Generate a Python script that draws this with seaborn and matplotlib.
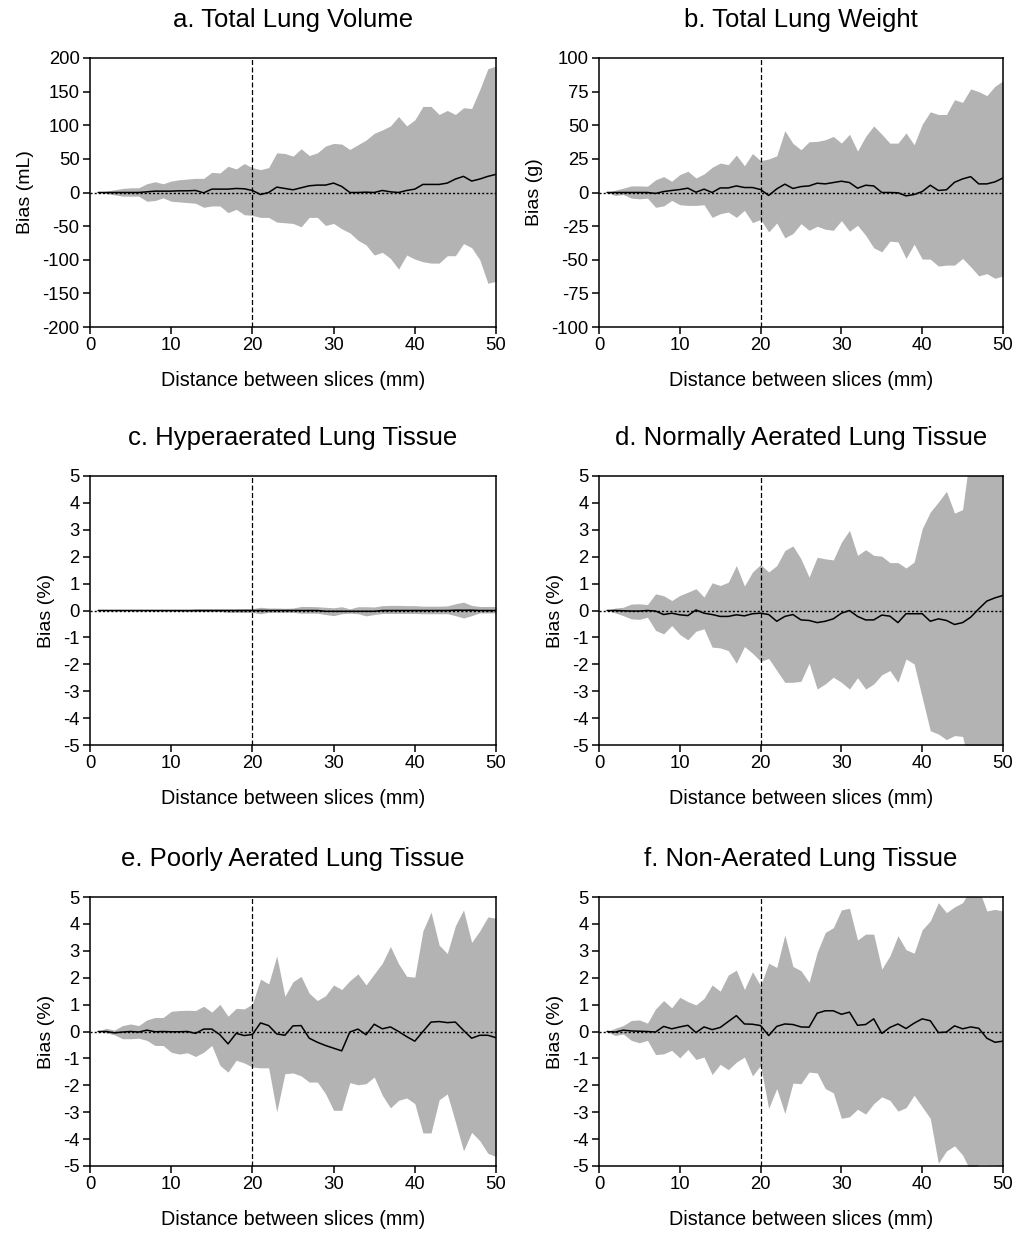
import numpy as np
import pandas as pd
import matplotlib
matplotlib.use("Agg")
import matplotlib.pyplot as plt
import seaborn as sns

sns.set_style("ticks")
plt.rcParams['font.family'] = ['Liberation Sans', 'DejaVu Sans']
plt.rcParams['text.color'] = 'black'
plt.rcParams['axes.labelcolor'] = 'black'
plt.rcParams['xtick.color'] = 'black'
plt.rcParams['ytick.color'] = 'black'

distance = list(range(1, 51))

titles = ["a. Total Lung Volume", "b. Total Lung Weight", "c. Hyperaerated Lung Tissue",
          "d. Normally Aerated Lung Tissue", "e. Poorly Aerated Lung Tissue", "f. Non-Aerated Lung Tissue"]
ylabels = ["Bias (mL)", "Bias (g)", "Bias (%)", "Bias (%)", "Bias (%)", "Bias (%)"]
xlabel = "Distance between slices (mm)"

a_mean = [0,0,0,0,0,0,1,2,2,2, 2.5,2.5,3,-0.5,5,5,5,6,5.5,3, -3,0,8,6,4,7,10,11,11,14,
          9,0,0,0.5,0,3,1,0,3,5, 12,12,12,14,20,24,17,20,24,27]
a_upper = [0,2,4,6,7,7,13,16,13,17, 19,20,21,21,30,29,39,35,43,37, 34,37,59,58,54,65,55,59,69,73,
           72,64,71,78,88,93,99,113,99,108, 128,128,116,122,116,126,125,153,184,188]
a_lower = [0,-1.5,-3.4,-5.4,-5.4,-5.4,-13,-12,-8,-13, -14,-15,-16,-22,-20,-20,-30,-25,-33,-34,
           -37,-37,-44,-45,-46,-51,-37,-37,-49,-46, -54,-60,-71,-78,-93,-89,-98,-114,-93,-99,
           -103,-105,-105,-94,-94,-76,-82,-100,-135,-132]

b_mean = [0,0,0,0,0,0,-0.7,0.7,1.5,2.2, 3.2,0.2,2.5,0,3.4,3.4,4.9,3.7,3.7,2.2,
          -2.2,2.7,6.2,3,4.4,4.9,6.9,6.4,7.4,8.4, 7.4,3.2,5.4,4.9,0,0,-0.2,-2.5,-1.5,0.7,
          5.4,1.5,2,7.6,10.1,11.8,6.4,6.4,7.9,10.8]
b_upper = [0,1.7,3.2,4.9,4.9,4.7,9.4,11.8,8.4,13.3, 15.8,10.8,13.8,18.7,21.9,20.7,27.8,19.9,29,23.6,
           24.9,27.3,46,36.5,31.8,37.7,38,39.2,41.7,36.7, 43.3,30.8,41.7,49.5,43.3,36.7,36.7,44.3,35.5,50.7,
           60,58,58,69,67,77,75,72,79,83]
b_lower = [0,-2.2,-1.5,-4.2,-4.7,-4.2,-11,-10,-5.9,-9.1, -9.6,-9.6,-9.1,-18.5,-15.8,-14.5,-18.5,-13.3,-22.4,-20,
           -29.3,-22.7,-33.7,-30.5,-23.2,-28.1,-25.1,-27.3,-28.1,-20.9, -28.8,-24.4,-31.8,-41.1,-44.1,-36.2,-36.7,-49,-38.4,-49.5,
           -49.5,-54.7,-54,-54,-49,-55.2,-62,-60.3,-63.8,-62]

c_mean = [0,0,0,0,0,0,0,0,0,0, 0,0,0,0,0,0,0,0,0,0, 0,0,0,0,0,0,0,0,-0.03,-0.03,
          -0.03,-0.03,-0.03,-0.03,-0.03,0,0,0,0,0, 0,0,0,0,0.01,0.01,0.01,0,0,0]
c_upper = [0,0,0,0.01,0.01,0.01,0.02,0.02,0.03,0.03, 0.03,0.03,0.06,0.06,0.06,0.06,0.06,0.06,0.07,0.07,
           0.12,0.09,0.09,0.08,0.09,0.15,0.15,0.14,0.12,0.1, 0.14,0.06,0.14,0.14,0.13,0.18,0.19,0.19,0.18,0.18,
           0.16,0.16,0.16,0.17,0.25,0.31,0.19,0.15,0.15,0.15]
c_lower = [0,-0.01,-0.01,-0.01,-0.01,-0.01,-0.01,-0.02,-0.02,-0.02, -0.04,-0.04,-0.04,-0.04,-0.04,-0.04,-0.07,-0.07,-0.07,-0.07,
           -0.12,-0.07,-0.07,-0.07,-0.07,-0.1,-0.1,-0.1,-0.15,-0.19, -0.12,-0.1,-0.12,-0.2,-0.15,-0.11,-0.11,-0.11,-0.11,-0.11,
           -0.12,-0.12,-0.12,-0.12,-0.19,-0.28,-0.19,-0.09,-0.09,-0.09]

d_mean = [0,0,-0.01,-0.02,-0.02,0,-0.02,-0.15,-0.1,-0.16, -0.19,0.02,-0.1,-0.15,-0.22,-0.22,-0.16,-0.2,-0.12,-0.1,
          -0.15,-0.4,-0.22,-0.15,-0.35,-0.37,-0.45,-0.4,-0.31,-0.1, 0,-0.22,-0.35,-0.35,-0.17,-0.21,-0.45,-0.12,-0.12,-0.12,
          -0.4,-0.31,-0.37,-0.52,-0.45,-0.25,0.06,0.35,0.47,0.56]
d_upper = [0,0.09,0.12,0.24,0.25,0.22,0.62,0.55,0.37,0.56, 0.68,0.81,0.5,1.03,0.93,1.05,1.67,0.91,1.43,1.71,
           1.43,1.67,2.23,2.4,1.92,1.24,1.98,1.92,1.88,2.54, 2.98,2.05,2.26,2.05,2.02,1.78,1.78,1.58,1.8,3.04,
           3.66,4.03,4.43,3.62,3.75,6.0,7,7,7,7]
d_lower = [0,-0.09,-0.19,-0.31,-0.33,-0.25,-0.74,-0.87,-0.56,-0.89, -1.09,-0.77,-0.68,-1.36,-1.39,-1.49,-1.96,-1.34,-1.59,-1.89,
           -1.78,-2.23,-2.67,-2.67,-2.63,-1.96,-2.92,-2.73,-2.48,-2.67, -2.92,-2.5,-2.92,-2.73,-2.39,-2.23,-2.67,-1.8,-1.99,-3.23,
           -4.47,-4.59,-4.8,-4.65,-4.68,-6,-6,-6,-6,-6]

e_mean = [0,0,-0.05,-0.02,0,-0.02,0.05,-0.01,0,-0.01, -0.01,0,-0.07,0.09,0.09,-0.12,-0.46,-0.07,-0.15,-0.11,
          0.32,0.22,-0.09,-0.14,0.21,0.22,-0.25,-0.4,-0.52,-0.62, -0.72,-0.02,0.09,-0.12,0.27,0.1,0.17,0,-0.19,-0.36,
          0,0.35,0.37,0.33,0.35,0.04,-0.25,-0.14,-0.14,-0.23]
e_upper = [0,0.12,0.05,0.22,0.28,0.22,0.43,0.52,0.52,0.75, 0.78,0.79,0.78,0.94,0.72,1.01,0.57,0.86,0.84,1.02,
           1.95,1.77,2.81,1.31,1.85,2.05,1.42,1.15,1.33,1.73, 1.56,1.89,2.14,1.73,2.14,2.54,3.16,2.52,2.05,2.02,
           3.74,4.44,3.21,2.9,3.93,4.52,3.31,3.74,4.26,4.21]
e_lower = [0,-0.05,-0.12,-0.27,-0.27,-0.25,-0.33,-0.52,-0.52,-0.77, -0.84,-0.79,-0.93,-0.77,-0.52,-1.26,-1.51,-1.07,-1.17,-1.32,
           -1.35,-1.35,-2.99,-1.57,-1.54,-1.65,-1.88,-1.88,-2.31,-2.93, -2.93,-1.9,-1.98,-1.94,-1.69,-2.37,-2.84,-2.56,-2.47,-2.68,
           -3.77,-3.77,-2.54,-2.32,-3.36,-4.44,-3.75,-4.06,-4.53,-4.65]

f_mean = [0,-0.02,0.05,0.02,0.01,0,-0.02,0.19,0.1,0.17, 0.23,-0.04,0.17,0.07,0.15,0.37,0.59,0.28,0.27,0.22,
          -0.15,0.19,0.28,0.26,0.17,0.16,0.68,0.77,0.77,0.64, 0.72,0.23,0.26,0.47,-0.07,0.15,0.28,0.11,0.31,0.47,
          0.4,-0.04,-0.02,0.21,0.1,0.17,0.12,-0.25,-0.4,-0.36]
f_upper = [0,0.12,0.22,0.41,0.43,0.31,0.84,1.15,0.88,1.27, 1.11,0.99,1.23,1.73,1.5,2.1,2.28,1.56,2.22,1.7,
           2.54,2.38,3.59,2.42,2.26,1.83,2.94,3.68,3.86,4.52, 4.58,3.4,3.62,3.62,2.32,2.81,3.56,3.04,2.91,3.78,
           4.11,4.79,4.42,4.63,4.79,5.3,5.3,4.48,4.54,4.48]
f_lower = [0,-0.15,-0.09,-0.33,-0.42,-0.33,-0.86,-0.83,-0.7,-0.98, -0.67,-1.04,-0.95,-1.6,-1.22,-1.42,-1.14,-0.95,-1.65,-1.26,
           -2.86,-2.12,-3.05,-1.92,-1.94,-1.51,-1.54,-2.12,-2.28,-3.23, -3.17,-2.89,-3.07,-2.68,-2.43,-2.56,-2.96,-2.83,-2.37,-2.8,
           -3.23,-4.9,-4.44,-4.25,-4.59,-5.2,-4.94,-4.94,-4.96,-4.99]

means = [a_mean, b_mean, c_mean, d_mean, e_mean, f_mean]
uppers = [a_upper, b_upper, c_upper, d_upper, e_upper, f_upper]
lowers = [a_lower, b_lower, c_lower, d_lower, e_lower, f_lower]
ylims = [(-200, 200), (-100, 100), (-5, 5), (-5, 5), (-5, 5), (-5, 5)]
yticks = [list(range(-200, 201, 50)), list(range(-100, 101, 25))] + [list(range(-5, 6))] * 4
xticks = [0, 10, 20, 30, 40, 50]

W, H = 1018, 1236
fig = plt.figure(figsize=(W / 100, H / 100), dpi=100)
lefts = [90, 599]
tops = [58, 476, 897]
aw = [406, 404]
ah = 269

for i in range(6):
    r, c = divmod(i, 2)
    left = lefts[c] / W
    bottom = 1 - (tops[r] + ah) / H
    ax = fig.add_axes([left, bottom, aw[c] / W, ah / H])
    df = pd.DataFrame({"distance": distance, "mean": means[i], "upper": uppers[i], "lower": lowers[i]})
    ax.fill_between(df["distance"], df["lower"], df["upper"], color="#b3b3b3", linewidth=0, zorder=1)
    sns.lineplot(data=df, x="distance", y="mean", ax=ax, color="black", linewidth=1.1, zorder=3)
    ax.axhline(0, color="black", linestyle=(0, (1.5, 1.5)), linewidth=1.0, zorder=4)
    ax.axvline(20, color="black", linestyle=(0, (4, 2)), linewidth=0.9, zorder=4)
    ax.set_xlim(0, 50)
    ax.set_ylim(*ylims[i])
    ax.set_xticks(xticks)
    ax.set_yticks(yticks[i])
    ax.set_yticklabels([str(v) for v in yticks[i]])
    ax.tick_params(direction="out", length=5, width=1.1, labelsize=13.3, colors="black", pad=2.5)
    for s in ax.spines.values():
        s.set_visible(True)
        s.set_linewidth(1.1)
        s.set_color("black")
    ax.set_title(titles[i], fontsize=18.5, pad=22, color="black")
    ax.set_xlabel(xlabel, fontsize=14.2, labelpad=12)
    ax.set_ylabel(ylabels[i], fontsize=14, labelpad=6)

fig.savefig("out.png", dpi=100)
